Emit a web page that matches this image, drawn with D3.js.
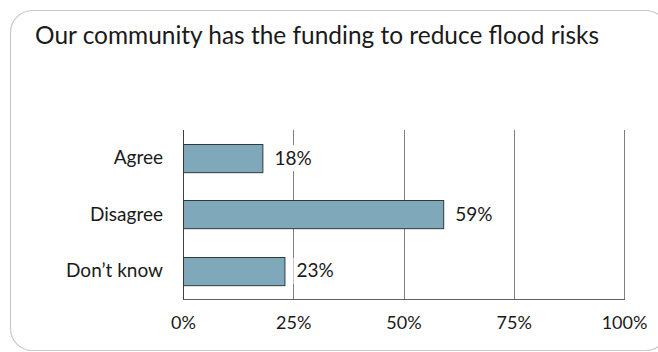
<!DOCTYPE html>
<html>
<head>
<meta charset="utf-8">
<script src="https://cdn.jsdelivr.net/npm/d3@7"></script>
<style>
  html, body { margin: 0; padding: 0; background: #fff; }
  svg { display: block; font-family: Lato, "Open Sans", sans-serif; }
</style>
</head>
<body>
<div id="chart"></div>
<script>
const title = "Our community has the funding to reduce flood risks";
const categories = ["Agree", "Disagree", "Don\u2019t know"];
const values = [18, 59, 23];
const tickValues = [0, 25, 50, 75, 100];
const tickLabels = ["0%", "25%", "50%", "75%", "100%"];

const W = 658, H = 352;
const margin = { left: 183, right: 34, top: 130, bottom: 53 };
const FONT = "Lato, 'Open Sans', sans-serif";

const svg = d3.select("#chart").append("svg")
  .attr("width", W).attr("height", H);

// rounded frame
svg.append("rect")
  .attr("x", 10.5).attr("y", 10.5)
  .attr("width", 657).attr("height", 340)
  .attr("rx", 22).attr("ry", 22)
  .attr("fill", "none")
  .attr("stroke", "#c8c8c8")
  .attr("stroke-width", 1.2);

svg.append("text")
  .attr("x", 35).attr("y", 44)
  .attr("font-size", 24.4)
  .attr("fill", "#1a1a1a")
  .attr("textLength", 564)
  .attr("lengthAdjust", "spacingAndGlyphs")
  .text(title);

const x = d3.scaleLinear().domain([0, 100]).range([margin.left, W - margin.right]);
const y = d3.scaleBand().domain(categories)
  .range([margin.top, H - margin.bottom]).paddingInner(0.5).paddingOuter(0.25);

// gridlines
svg.append("g").selectAll("line").data(tickValues.slice(1)).join("line")
  .attr("x1", d => Math.round(x(d)) + 0.5).attr("x2", d => Math.round(x(d)) + 0.5)
  .attr("y1", margin.top).attr("y2", H - margin.bottom)
  .attr("stroke", "#7f7f7f").attr("stroke-width", 1);

// left axis line and bottom line
svg.append("line")
  .attr("x1", margin.left + 0.5).attr("x2", margin.left + 0.5)
  .attr("y1", margin.top).attr("y2", H - margin.bottom)
  .attr("stroke", "#404040");
svg.append("line")
  .attr("x1", margin.left).attr("x2", x(100) + 1)
  .attr("y1", H - margin.bottom + 0.5).attr("y2", H - margin.bottom + 0.5)
  .attr("stroke", "#606060");

// x tick labels
const xAxis = d3.axisBottom(x).tickValues(tickValues)
  .tickFormat((d, i) => tickLabels[i]).tickSize(0).tickPadding(17);
const gx = svg.append("g").attr("transform", `translate(0,${H - margin.bottom})`).call(xAxis);
gx.select(".domain").remove();
gx.selectAll("text").attr("font-size", 18).attr("fill", "#1a1a1a")
  .attr("font-family", FONT);

// y category labels
const yAxis = d3.axisLeft(y).tickSize(0).tickPadding(20);
const gy = svg.append("g").attr("transform", `translate(${margin.left},0)`).call(yAxis);
gy.select(".domain").remove();
gy.selectAll("text").attr("font-size", 19).attr("fill", "#1a1a1a")
  .attr("font-family", FONT);

// bars
svg.append("g").selectAll("rect").data(values).join("rect")
  .attr("x", x(0) + 0.5)
  .attr("y", (d, i) => Math.round(y(categories[i])) + 0.5)
  .attr("width", d => x(d) - x(0))
  .attr("height", y.bandwidth())
  .attr("fill", "#7fa8bb")
  .attr("stroke", "#2f3a40")
  .attr("stroke-width", 1);

// value labels with white backing
const lab = svg.append("g").selectAll("g").data(values).join("g")
  .attr("transform", (d, i) => `translate(${x(d) + 12},${y(categories[i]) + y.bandwidth() / 2})`);
lab.append("rect")
  .attr("x", -3).attr("y", -13).attr("width", 44).attr("height", 26)
  .attr("fill", "#fff");
lab.append("text")
  .attr("dy", "0.35em")
  .attr("font-size", 19).attr("fill", "#1a1a1a")
  .text(d => d + "%");
</script>
</body>
</html>
